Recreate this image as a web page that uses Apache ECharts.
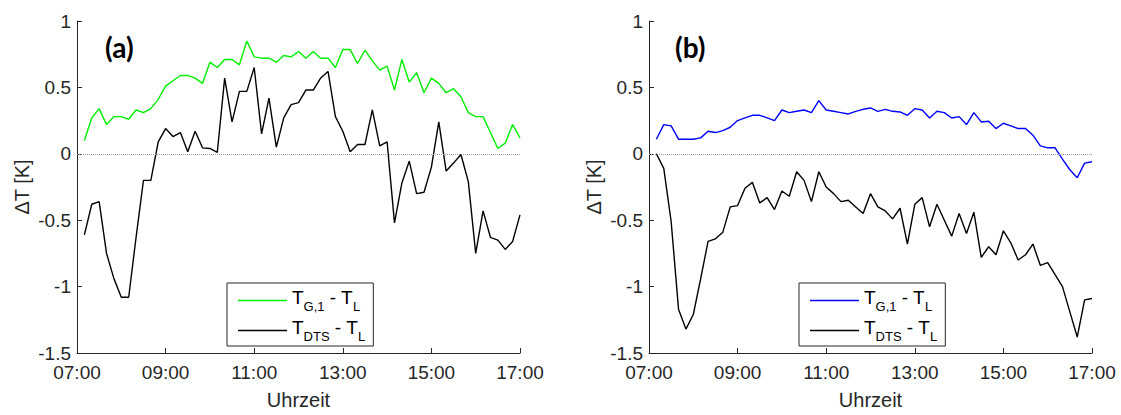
<!DOCTYPE html>
<html>
<head>
<meta charset="utf-8">
<script src="https://cdn.jsdelivr.net/npm/echarts@6/dist/echarts.min.js"></script>
<style>
html,body{margin:0;padding:0;background:#fff;}
#chart{width:1121px;height:415px;}
</style>
</head>
<body>
<div id="chart"></div>
<script>
// Sampling times (10-minute steps)
var times = ['07:10','07:20','07:30','07:40','07:50','08:00','08:10','08:20','08:30','08:40',
 '08:50','09:00','09:10','09:20','09:30','09:40','09:50','10:00','10:10','10:20',
 '10:30','10:40','10:50','11:00','11:10','11:20','11:30','11:40','11:50','12:00',
 '12:10','12:20','12:30','12:40','12:50','13:00','13:10','13:20','13:30','13:40',
 '13:50','14:00','14:10','14:20','14:30','14:40','14:50','15:00','15:10','15:20',
 '15:30','15:40','15:50','16:00','16:10','16:20','16:30','16:40','16:50','17:00'];

// Panel (a): T_G,1 - T_L (green)
var gA = [0.10,0.27,0.34,0.22,0.28,0.28,0.26,0.33,0.31,0.34,
 0.41,0.51,0.55,0.59,0.59,0.57,0.53,0.69,0.65,0.71,
 0.71,0.67,0.85,0.73,0.72,0.72,0.69,0.74,0.73,0.77,
 0.72,0.77,0.72,0.72,0.65,0.785,0.785,0.68,0.78,0.70,
 0.63,0.66,0.48,0.71,0.54,0.61,0.46,0.57,0.53,0.46,
 0.49,0.43,0.31,0.28,0.28,0.16,0.04,0.08,0.22,0.12];

// Panel (a): T_DTS - T_L (black)
var dA = [-0.61,-0.38,-0.36,-0.75,-0.94,-1.08,-1.08,-0.63,-0.20,-0.20,
 0.09,0.19,0.13,0.16,0.015,0.17,0.045,0.04,0.01,0.57,
 0.24,0.47,0.47,0.65,0.15,0.42,0.05,0.27,0.37,0.385,
 0.48,0.48,0.57,0.62,0.28,0.17,0.015,0.07,0.07,0.33,
 0.06,0.09,-0.52,-0.22,-0.055,-0.30,-0.29,-0.10,0.24,-0.13,
 -0.07,-0.005,-0.21,-0.75,-0.43,-0.63,-0.65,-0.72,-0.66,-0.46];

// Panel (b): T_G,1 - T_L (blue)
var gB = [0.11,0.22,0.21,0.11,0.11,0.11,0.12,0.17,0.16,0.175,
 0.20,0.25,0.27,0.29,0.29,0.27,0.25,0.33,0.31,0.32,
 0.33,0.31,0.40,0.33,0.32,0.31,0.30,0.32,0.335,0.345,
 0.32,0.335,0.32,0.315,0.29,0.34,0.33,0.27,0.32,0.31,
 0.27,0.28,0.22,0.31,0.24,0.245,0.19,0.23,0.21,0.19,
 0.19,0.14,0.06,0.045,0.045,-0.04,-0.12,-0.18,-0.07,-0.06];

// Panel (b): T_DTS - T_L (black)
var dB = [0.0,-0.11,-0.51,-1.17,-1.32,-1.21,-0.94,-0.66,-0.64,-0.59,
 -0.40,-0.39,-0.26,-0.215,-0.37,-0.33,-0.42,-0.28,-0.32,-0.135,
 -0.20,-0.36,-0.135,-0.25,-0.30,-0.36,-0.35,-0.40,-0.45,-0.30,
 -0.40,-0.43,-0.49,-0.41,-0.68,-0.38,-0.33,-0.55,-0.38,-0.50,
 -0.62,-0.45,-0.60,-0.44,-0.78,-0.70,-0.76,-0.58,-0.67,-0.80,
 -0.76,-0.68,-0.84,-0.82,-0.91,-1.00,-1.19,-1.38,-1.10,-1.09];

var xTickLabels = ['07:00','09:00','11:00','13:00','15:00','17:00'];
var panelLabels = ['(a)','(b)'];

function toHours(s){ var p = s.split(':'); return (+p[0]) + (+p[1]) / 60; }
function pairs(vals){ return vals.map(function(v,i){ return [toHours(times[i]), v]; }); }

var FONT = '"Liberation Sans", Arial, sans-serif';
var AX = '#262626';

function xAxisFor(idx){
  return {
    type:'value', gridIndex:idx, min:7, max:17, interval:2,
    name:'Uhrzeit', nameLocation:'middle', nameGap:37,
    nameTextStyle:{fontSize:20, color:AX, fontFamily:FONT},
    axisLine:{show:true, onZero:false, lineStyle:{color:AX, width:1}},
    axisTick:{show:true, inside:true, length:5, lineStyle:{color:AX}},
    splitLine:{show:false},
    axisLabel:{fontSize:19, color:AX, fontFamily:FONT, margin:10,
      formatter:function(v){ return xTickLabels[Math.round((v-7)/2)]; }}
  };
}
function yAxisFor(idx){
  return {
    type:'value', gridIndex:idx, min:-1.5, max:1, interval:0.5,
    name:'\u0394T [K]', nameLocation:'middle', nameGap:45,
    nameTextStyle:{fontSize:20, color:AX, fontFamily:FONT},
    axisLine:{show:true, lineStyle:{color:AX, width:1}},
    axisTick:{show:true, inside:true, length:5, lineStyle:{color:AX}},
    splitLine:{show:false},
    axisLabel:{fontSize:19, color:AX, fontFamily:FONT, margin:6}
  };
}
var zeroLine = {
  silent:true, symbol:['none','none'], label:{show:false},
  lineStyle:{type:'dotted', color:'#9a9a9a', width:1},
  data:[{yAxis:0}]
};
function lineSeries(name, idx, vals, color, withZero){
  var s = {
    name:name, type:'line', xAxisIndex:idx, yAxisIndex:idx,
    data:pairs(vals), symbol:'none', showSymbol:false,
    lineStyle:{color:color, width:1.4}, itemStyle:{color:color},
    animation:false, z: withZero ? 3 : 4
  };
  if (withZero) s.markLine = zeroLine;
  return s;
}
var legendNames = {
  gA:'{m|T}{s|G,1}{m| - T}{s|L}', dA:'{m|T}{s|DTS}{m| - T}{s|L}',
  gB:'{m|T}{s|G,1}{m| - T}{s|L}', dB:'{m|T}{s|DTS}{m| - T}{s|L}'
};
function legendFor(names, left){
  return {
    orient:'vertical', left:left, top:283,
    data:names.map(function(n){ return {name:n, icon:'rect'}; }),
    formatter:function(n){ return legendNames[n]; },
    backgroundColor:'#fff', borderColor:AX, borderWidth:1, borderRadius:0,
    padding:[5,8,3,11], itemWidth:49, itemHeight:1.5, itemGap:5,
    selectedMode:false,
    textStyle:{color:'#000', fontFamily:FONT, fontSize:19,
      rich:{
        m:{fontSize:19, fontFamily:FONT, color:'#000', verticalAlign:'bottom', padding:[0,0,6,0]},
        s:{fontSize:13, fontFamily:FONT, color:'#000', verticalAlign:'bottom'}
      }}
  };
}

var chart = echarts.init(document.getElementById('chart'), null, {renderer:'svg'});
chart.setOption({
  backgroundColor:'#fff',
  animation:false,
  title:[
    {text:panelLabels[0], left:100, top:28, textStyle:{fontFamily:'Lato, "Open Sans", sans-serif', fontWeight:'bold', fontSize:28, color:'#000'}},
    {text:panelLabels[1], left:670, top:28, textStyle:{fontFamily:'Lato, "Open Sans", sans-serif', fontWeight:'bold', fontSize:28, color:'#000'}}
  ],
  grid:[
    {left:77, top:21, width:443, height:337},
    {left:649, top:21, width:443, height:337}
  ],
  xAxis:[xAxisFor(0), xAxisFor(1)],
  yAxis:[yAxisFor(0), yAxisFor(1)],
  legend:[legendFor(['gA','dA'], 227), legendFor(['gB','dB'], 799)],
  series:[
    lineSeries('gA', 0, gA, '#00ee00', true),
    lineSeries('dA', 0, dA, '#000000', false),
    lineSeries('gB', 1, gB, '#0000ff', true),
    lineSeries('dB', 1, dB, '#000000', false)
  ]
});
</script>
</body>
</html>
